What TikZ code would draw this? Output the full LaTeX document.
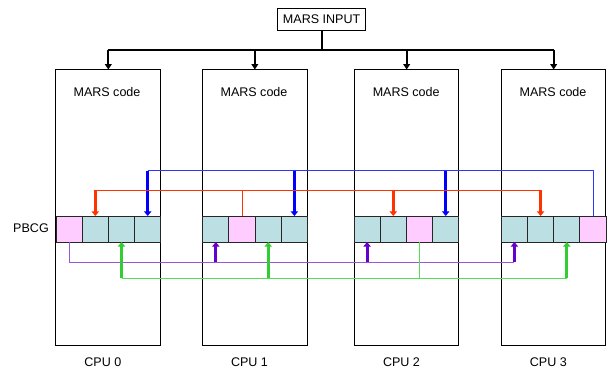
\documentclass[tikz,border=0pt]{standalone}
\usepackage{fontspec}
\setmainfont{Liberation Sans}
\usetikzlibrary{arrows.meta}
\definecolor{cellT}{HTML}{BBDFE2}
\definecolor{cellP}{HTML}{FFCCFF}
\definecolor{bArrow}{HTML}{0000FF}
\definecolor{bLine}{HTML}{3333FF}
\definecolor{rArrow}{HTML}{FF3300}
\definecolor{pArrow}{HTML}{6600CC}
\definecolor{pLine}{HTML}{9955DD}
\definecolor{gArrow}{HTML}{33CC33}
\definecolor{gLine}{HTML}{55DD55}
\begin{document}
\begin{tikzpicture}[x=0.75pt,y=-0.75pt,font=\fontsize{9.4}{11}\selectfont,
  box/.style={draw=black,line width=0.75pt,inner sep=0pt,outer sep=0pt},
  inbox/.style={box,minimum width=66.5pt,minimum height=16.8pt},
  cpubox/.style={box,minimum width=78.5pt,minimum height=207.15pt},
  cell/.style={draw=black!85,line width=0.75pt,minimum width=19.65pt,minimum height=19.5pt,inner sep=0pt,outer sep=0pt},
  lbl/.style={inner sep=0pt},
  bus/.style={line width=1.5pt},
  busarrow/.style={line width=1.5pt,-{Triangle[length=4pt,width=5pt]}},
  thinline/.style={line width=0.75pt},
  fatarrow/.style={line width=2.25pt,-{Triangle[length=3.5pt,width=5.5pt]}},
]
\useasboundingbox (0,0) rectangle (607,371);

% input
\node[inbox] (in) at (321.6,19.5) {MARS INPUT};

% CPU boxes
\node[cpubox] (p0) at (108.3,207.6) {};
\node[cpubox] (p1) at (254.85,207.6) {};
\node[cpubox] (p2) at (406.65,207.6) {};
\node[cpubox] (p3) at (553.65,207.6) {};

\foreach \n/\cx in {0/107,1/254,2/406.2,3/553}{
  \node[lbl] (mc\n) at (\cx,92.5) {MARS code};
}
\foreach \n/\cx in {0/102.8,1/249.5,2/401.5,3/548.3}{
  \node[lbl] (cpu\n) at (\cx,362.5) {CPU \n};
}
\node[lbl] (pbcg) at (31,227.7) {PBCG};

% cells
\foreach \n/\L/\p in {0/56/1,1/202.7/2,2/354/3,3/501.3/4}{
  \foreach \k/\s in {1/a,2/b,3/c,4/d}{
    \ifnum\k=\p\relax\def\cf{cellP}\else\def\cf{cellT}\fi
    \node[cell,fill=\cf] (c\n\s) at ({\L+26.2*\k-13.1},229) {};
  }
}

% bus
\coordinate (busy) at (0,50);
\draw[bus] (in.south) -- (in.south |- busy);
\draw[bus] (p0.north |- busy) -- (p3.north |- busy);
\foreach \n in {0,1,2,3}{
  \draw[busarrow] (p\n.north |- busy) -- (p\n.north);
}

% blue
\coordinate (bly) at (0,170.7);
\draw[thinline,bLine] (c3d.north) |- (c0d.north |- bly);
\foreach \n in {0,1,2}{
  \draw[fatarrow,bArrow] (c\n d.north |- bly) -- (c\n d.north);
}

% red
\coordinate (rly) at (0,190.3);
\draw[thinline,rArrow] (c1b.north) -- (c1b.north |- rly);
\draw[thinline,rArrow] (c0b.north |- rly) -- (c3b.north |- rly);
\foreach \n in {0,2,3}{
  \draw[fatarrow,rArrow] (c\n b.north |- rly) -- (c\n b.north);
}

% purple
\coordinate (ply) at (0,262);
\draw[thinline,pLine] (c0a.south) |- (c3a.south |- ply);
\foreach \n in {1,2,3}{
  \draw[fatarrow,pArrow] (c\n a.south |- ply) -- (c\n a.south);
}

% green
\coordinate (gly) at (0,278);
\draw[thinline,gLine] (c2c.south) -- (c2c.south |- gly);
\draw[thinline,gLine] (c0c.south |- gly) -- (c3c.south |- gly);
\foreach \n in {0,1,3}{
  \draw[fatarrow,gArrow] (c\n c.south |- gly) -- (c\n c.south);
}
\end{tikzpicture}
\end{document}
